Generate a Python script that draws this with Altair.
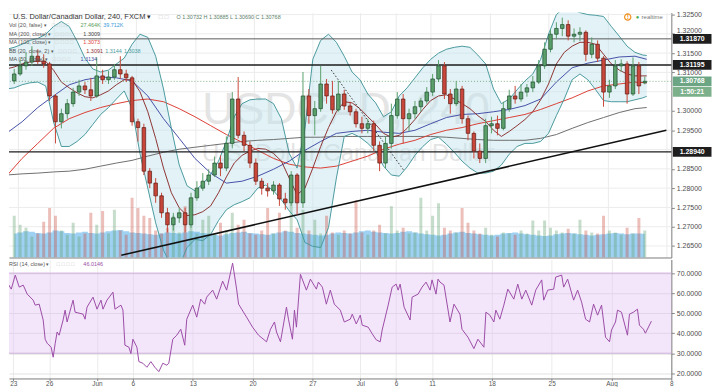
import json
import altair as alt
import pandas as pd

# ---------------- data ----------------
# 12-hour candles (bar index b = 3*i - 2 in 240-minute bars from 23 May)
OPEN = [1.3078, 1.3096, 1.3117, 1.3127, 1.3142, 1.3129, 1.3122, 1.3039, 1.2972, 1.2993,
        1.3019, 1.3049, 1.3065, 1.3055, 1.3039, 1.3091, 1.3081, 1.3088, 1.3107, 1.3096,
        1.3086, 1.2972, 1.2957, 1.2844, 1.2813, 1.2780, 1.2736, 1.2705, 1.2723, 1.2736,
        1.2705, 1.2775, 1.2800, 1.2818, 1.2834, 1.2865, 1.2852, 1.2916, 1.3031, 1.2937,
        1.2911, 1.2865, 1.2818, 1.2800, 1.2793, 1.2808, 1.2772, 1.2762, 1.2834, 1.2762,
        1.3039, 1.2988, 1.3006, 1.3070, 1.3039, 1.3003, 1.3044, 1.3013, 1.2998, 1.2967,
        1.2955, 1.2967, 1.2911, 1.2865, 1.2916, 1.2988, 1.3031, 1.2980, 1.2993, 1.3011,
        1.3026, 1.3049, 1.3083, 1.3117, 1.3044, 1.3019, 1.3057, 1.2980, 1.2942, 1.2896,
        1.2877, 1.2962, 1.2967, 1.2955, 1.3006, 1.3039, 1.3031, 1.3049, 1.3060, 1.3075,
        1.3117, 1.3160, 1.3199, 1.3214, 1.3224, 1.3194, 1.3199, 1.3204, 1.3147, 1.3173,
        1.3137, 1.3049, 1.3065, 1.3117, 1.3122, 1.3044, 1.3117, 1.3073]
HIGH = [1.3109, 1.3134, 1.3152, 1.3168, 1.3160, 1.3147, 1.3127, 1.3044, 1.3006, 1.3031,
        1.3060, 1.3081, 1.3075, 1.3086, 1.3139, 1.3107, 1.3104, 1.3122, 1.3142, 1.3107,
        1.3091, 1.2980, 1.2967, 1.2852, 1.2826, 1.2788, 1.2749, 1.2736, 1.2749, 1.2749,
        1.2788, 1.2818, 1.2839, 1.2849, 1.2882, 1.2885, 1.2934, 1.3049, 1.3088, 1.2947,
        1.2921, 1.2877, 1.2826, 1.2813, 1.2818, 1.2813, 1.2788, 1.2844, 1.2839, 1.3101,
        1.3057, 1.3026, 1.3117, 1.3083, 1.3078, 1.3078, 1.3055, 1.3024, 1.3006, 1.2985,
        1.2980, 1.2975, 1.2921, 1.2934, 1.3019, 1.3049, 1.3044, 1.3006, 1.3026, 1.3034,
        1.3062, 1.3096, 1.3132, 1.3127, 1.3057, 1.3078, 1.3065, 1.2988, 1.2947, 1.2916,
        1.2980, 1.2985, 1.2988, 1.3024, 1.3055, 1.3065, 1.3070, 1.3070, 1.3091, 1.3132,
        1.3178, 1.3211, 1.3230, 1.3242, 1.3235, 1.3214, 1.3217, 1.3209, 1.3191, 1.3183,
        1.3142, 1.3081, 1.3132, 1.3134, 1.3129, 1.3139, 1.3127, 1.3089]
LOW = [1.3070, 1.3091, 1.3107, 1.3117, 1.3122, 1.3112, 1.3026, 1.2916, 1.2955, 1.2980,
       1.3011, 1.3039, 1.3044, 1.3026, 1.3034, 1.3070, 1.3070, 1.3081, 1.3083, 1.3075,
       1.2962, 1.2921, 1.2834, 1.2800, 1.2762, 1.2723, 1.2685, 1.2690, 1.2710, 1.2685,
       1.2697, 1.2767, 1.2793, 1.2808, 1.2829, 1.2831, 1.2844, 1.2903, 1.2929, 1.2896,
       1.2852, 1.2808, 1.2783, 1.2778, 1.2783, 1.2754, 1.2744, 1.2754, 1.2731, 1.2749,
       1.2967, 1.2937, 1.2998, 1.3019, 1.2993, 1.2998, 1.3003, 1.2988, 1.2957, 1.2942,
       1.2942, 1.2896, 1.2844, 1.2852, 1.2903, 1.2980, 1.2916, 1.2947, 1.2980, 1.2998,
       1.3019, 1.3039, 1.3075, 1.3031, 1.2993, 1.3013, 1.2967, 1.2924, 1.2877, 1.2865,
       1.2865, 1.2942, 1.2937, 1.2950, 1.2998, 1.3019, 1.3024, 1.3037, 1.3049, 1.3070,
       1.3109, 1.3152, 1.3186, 1.3194, 1.3183, 1.3178, 1.3181, 1.3129, 1.3137, 1.3127,
       1.3011, 1.3034, 1.3057, 1.3101, 1.3019, 1.3039, 1.3044, 1.3069]
CLOSE = [1.3096, 1.3117, 1.3127, 1.3142, 1.3129, 1.3122, 1.3039, 1.2972, 1.2993, 1.3019,
         1.3049, 1.3065, 1.3055, 1.3039, 1.3091, 1.3081, 1.3088, 1.3107, 1.3096, 1.3086,
         1.2972, 1.2957, 1.2844, 1.2813, 1.2780, 1.2736, 1.2705, 1.2723, 1.2736, 1.2705,
         1.2775, 1.2800, 1.2818, 1.2834, 1.2865, 1.2852, 1.2916, 1.3031, 1.2937, 1.2911,
         1.2865, 1.2818, 1.2800, 1.2793, 1.2808, 1.2772, 1.2762, 1.2834, 1.2762, 1.3039,
         1.2988, 1.3006, 1.3070, 1.3039, 1.3003, 1.3044, 1.3013, 1.2998, 1.2967, 1.2955,
         1.2967, 1.2911, 1.2865, 1.2916, 1.2988, 1.3031, 1.2980, 1.2993, 1.3011, 1.3026,
         1.3049, 1.3083, 1.3117, 1.3044, 1.3019, 1.3057, 1.2980, 1.2942, 1.2896, 1.2877,
         1.2962, 1.2967, 1.2955, 1.3006, 1.3039, 1.3031, 1.3049, 1.3060, 1.3075, 1.3117,
         1.3160, 1.3199, 1.3214, 1.3224, 1.3194, 1.3199, 1.3204, 1.3147, 1.3173, 1.3137,
         1.3049, 1.3065, 1.3117, 1.3122, 1.3044, 1.3117, 1.3065, 1.3077]
VOLUME_K = [70, 55, 50, 35, 40, 60, 83, 70, 45, 38, 58, 35, 40, 75, 55, 78, 40, 80, 45, 38,
            100, 83, 70, 66, 45, 40, 50, 70, 42, 86, 55, 40, 63, 70, 40, 58, 45, 75, 55, 63,
            40, 38, 45, 83, 40, 75, 45, 91, 50, 80, 45, 63, 40, 70, 42, 38, 45, 40, 96, 42,
            38, 45, 55, 40, 86, 45, 50, 40, 42, 100, 45, 70, 91, 50, 45, 42, 83, 58, 45, 40,
            50, 38, 35, 42, 40, 38, 45, 40, 62, 45, 62, 50, 45, 42, 48, 40, 63, 45, 42, 40,
            70, 45, 42, 38, 50, 40, 66, 45]
VOLUME_MA_K = [40, 42, 44, 43, 41, 40, 42, 45, 44, 41, 40, 42, 43, 41, 40, 42, 44, 45, 46, 44,
               42, 41, 40, 39, 38, 40, 42, 41, 40, 42, 44, 43, 41, 40, 38, 37, 39, 41, 42, 43,
               41, 40, 39, 38, 40, 42, 44, 43, 41, 40, 39, 38, 37, 38, 40, 42, 41, 40, 42, 44,
               45, 43, 42, 41, 40, 41, 43, 44, 42, 40, 39, 38, 37, 38, 40, 42, 43, 41, 40, 39,
               38, 37, 38, 40, 41, 42, 40, 39, 38, 37, 36, 37, 39, 40, 41, 40, 39, 38, 37, 38,
               39, 40, 41, 40, 39, 40, 40, 39.7]

# Bollinger bands (20, close, 2), read every 4 bars
BAND_B = list(range(-6, 319, 4)) + [320]
BB_UPPER = [1.3160, 1.3165, 1.3173, 1.3183, 1.3188, 1.3199, 1.3219, 1.3232, 1.3219, 1.3181,
            1.3137, 1.3109, 1.3101, 1.3106, 1.3122, 1.3137, 1.3173, 1.3199, 1.3191, 1.3142,
            1.3057, 1.2955, 1.2860, 1.2806, 1.2793, 1.2811, 1.2836, 1.2870, 1.2921, 1.2985,
            1.3019, 1.3029, 1.3031, 1.3031, 1.3019, 1.2980, 1.2890, 1.2852, 1.2955, 1.3134,
            1.3183, 1.3199, 1.3178, 1.3142, 1.3101, 1.3081, 1.3044, 1.3021, 1.2985, 1.2998,
            1.3039, 1.3060, 1.3086, 1.3112, 1.3134, 1.3150, 1.3160, 1.3165, 1.3168, 1.3165,
            1.3145, 1.3122, 1.3057, 1.3019, 1.3031, 1.3055, 1.3078, 1.3096, 1.3134, 1.3199,
            1.3250, 1.3268, 1.3263, 1.3255, 1.3250, 1.3248, 1.3245, 1.3219, 1.3194, 1.3168,
            1.3152, 1.3145, 1.3144]
BB_LOWER = [1.3057, 1.3060, 1.3068, 1.3073, 1.3075, 1.3065, 1.2972, 1.2908, 1.2908, 1.2921,
            1.2939, 1.2965, 1.2991, 1.3009, 1.3031, 1.3052, 1.3006, 1.2890, 1.2800, 1.2710,
            1.2639, 1.2598, 1.2598, 1.2646, 1.2667, 1.2664, 1.2680, 1.2716, 1.2744, 1.2757,
            1.2765, 1.2775, 1.2800, 1.2808, 1.2793, 1.2770, 1.2741, 1.2718, 1.2659, 1.2649,
            1.2646, 1.2698, 1.2826, 1.2934, 1.2942, 1.2932, 1.2916, 1.2896, 1.2857, 1.2834,
            1.2831, 1.2855, 1.2885, 1.2908, 1.2926, 1.2932, 1.2914, 1.2893, 1.2870, 1.2852,
            1.2839, 1.2839, 1.2844, 1.2860, 1.2888, 1.2908, 1.2916, 1.2916, 1.2921, 1.2942,
            1.2988, 1.3031, 1.3081, 1.3096, 1.3081, 1.3055, 1.3027, 1.3024, 1.3024, 1.3024,
            1.3029, 1.3034, 1.3038]
BB_BASIS = [1.3109, 1.3114, 1.3122, 1.3127, 1.3129, 1.3129, 1.3106, 1.3075, 1.3060, 1.3047,
            1.3037, 1.3034, 1.3042, 1.3052, 1.3068, 1.3081, 1.3081, 1.3050, 1.2998, 1.2929,
            1.2852, 1.2788, 1.2749, 1.2729, 1.2731, 1.2739, 1.2754, 1.2788, 1.2829, 1.2865,
            1.2885, 1.2896, 1.2903, 1.2901, 1.2890, 1.2870, 1.2826, 1.2783, 1.2800, 1.2852,
            1.2908, 1.2957, 1.2998, 1.3024, 1.3021, 1.3006, 1.2985, 1.2965, 1.2942, 1.2932,
            1.2937, 1.2955, 1.2978, 1.3004, 1.3027, 1.3039, 1.3042, 1.3031, 1.3019, 1.3006,
            1.2988, 1.2973, 1.2950, 1.2934, 1.2947, 1.2962, 1.2978, 1.2998, 1.3029, 1.3070,
            1.3122, 1.3152, 1.3168, 1.3178, 1.3178, 1.3173, 1.3147, 1.3122, 1.3106, 1.3096,
            1.3091, 1.3091, 1.3091]

# moving averages, read every 8 bars
MA_B = list(range(-6, 315, 8)) + [320]
MA50 = [1.2942, 1.2972, 1.3009, 1.3039, 1.3068, 1.3081, 1.3088, 1.3086, 1.3078, 1.3039,
        1.2980, 1.2929, 1.2877, 1.2839, 1.2813, 1.2818, 1.2831, 1.2849, 1.2870, 1.2898,
        1.2921, 1.2942, 1.2947, 1.2950, 1.2945, 1.2942, 1.2950, 1.2967, 1.2983, 1.2991,
        1.2993, 1.2998, 1.3004, 1.3014, 1.3031, 1.3075, 1.3112, 1.3124, 1.3132, 1.3140,
        1.3142, 1.3134]
MA100 = [1.2831, 1.2877, 1.2916, 1.2955, 1.2980, 1.2996, 1.3009, 1.3019, 1.3027, 1.3031,
         1.3024, 1.3006, 1.2985, 1.2962, 1.2939, 1.2919, 1.2898, 1.2877, 1.2862, 1.2855,
         1.2852, 1.2857, 1.2870, 1.2883, 1.2901, 1.2914, 1.2924, 1.2939, 1.2950, 1.2957,
         1.2967, 1.2975, 1.2983, 1.2991, 1.3004, 1.3019, 1.3034, 1.3052, 1.3065, 1.3070,
         1.3075, 1.3073]
MA200 = [1.2834, 1.2837, 1.2839, 1.2842, 1.2844, 1.2849, 1.2857, 1.2865, 1.2872, 1.2883,
         1.2893, 1.2901, 1.2906, 1.2911, 1.2916, 1.2921, 1.2924, 1.2926, 1.2929, 1.2932,
         1.2932, 1.2934, 1.2934, 1.2934, 1.2934, 1.2934, 1.2934, 1.2934, 1.2932, 1.2929,
         1.2926, 1.2924, 1.2924, 1.2924, 1.2929, 1.2939, 1.2955, 1.2970, 1.2983, 1.2996,
         1.3006, 1.3009]

# RSI (14, close)
RSI_B = [-6, -4, -1, 1, 3, 5, 7, 10, 11, 13, 15, 16, 17, 19, 20, 21, 22, 23, 25, 26, 27, 29,
         30, 31, 35, 36, 37, 40, 42, 44, 45, 47, 50, 51, 54, 55, 56, 58, 59, 60, 62, 63, 65,
         67, 69, 71, 73, 75, 77, 78, 80, 82, 84, 86, 87, 90, 92, 94, 96, 97, 100, 102, 105,
         107, 110, 112, 113, 117, 120, 123, 127, 129, 131, 132, 134, 137, 138, 140, 141, 142,
         144, 147, 149, 152, 153, 155, 157, 159, 161, 164, 166, 169, 170, 172, 174, 175, 178,
         180, 182, 184, 185, 188, 190, 192, 193, 194, 196, 199, 200, 203, 205, 207, 209, 210,
         212, 213, 214, 216, 219, 221, 224, 225, 228, 231, 233, 236, 237, 239, 241, 242, 244,
         246, 248, 251, 253, 255, 257, 260, 262, 265, 266, 268, 271, 272, 275, 276, 278, 281,
         283, 285, 287, 289, 291, 293, 295, 297, 299, 300, 302, 303, 305, 308, 309, 311, 313,
         314, 316, 317, 320]
RSI_V = [62, 67, 62, 69, 63, 64, 59.5, 56.5, 54, 54.5, 46.6, 37, 35, 33, 28, 34.7, 40.6, 39,
         46.6, 51.5, 45.6, 53, 56.5, 50.5, 49.5, 47, 53, 58, 52, 56.5, 52, 56.5, 60.5, 52, 54,
         51.5, 34, 33, 29.8, 37, 33, 25.8, 25, 23, 25.8, 23, 20.8, 25, 24, 25, 37, 39, 42, 34,
         47, 54, 48, 57, 54.5, 58, 61.5, 57, 66, 61.5, 75, 62, 54.5, 48, 43, 39, 35.7, 42, 45.6,
         40.6, 35.7, 53, 47, 37, 51.5, 43, 69.4, 61.5, 67, 62, 65.5, 63, 54.5, 61.5, 54.5, 51.5,
         45.6, 47, 49.5, 44.6, 49, 44, 43, 39.7, 36.7, 35.7, 41.6, 54, 63, 64.5, 61.5, 64.5, 53,
         46.6, 58, 59.5, 63, 65.5, 61.5, 66.6, 59.5, 67, 65.5, 64, 45.6, 54.5, 49.5, 42, 38,
         32.3, 37, 33, 50.5, 49, 45.6, 51.5, 47, 54, 62, 57, 64.5, 57, 61.5, 54, 61.5, 66.6,
         56.5, 61.5, 62, 68, 69, 63, 67, 56.5, 61.5, 55.5, 47, 45.6, 54.5, 49, 54, 38, 35.7,
         41.6, 45.6, 51.5, 50.5, 39, 49.5, 50.5, 52, 44, 42, 40, 46.0146]

TICK_B = [0, 18, 42, 60, 90, 120, 150, 174, 192, 210, 240, 270, 300, 330]
TICK_LABELS = ["23", "26", "Jun", "6", "13", "20", "27", "Jul", "6", "11", "18", "25", "Aug", "8"]
PRICE_GRID = [1.265, 1.270, 1.275, 1.280, 1.285, 1.290, 1.295, 1.300, 1.305, 1.310,
              1.315, 1.320, 1.325]
# labels that stay visible (1.29000 and 1.30500 sit under the marker boxes)
PRICE_LABELS = [1.265, 1.270, 1.275, 1.280, 1.285, 1.295, 1.300, 1.310, 1.315, 1.320, 1.325]
RSI_TICKS = [20, 30, 40, 50, 60, 70]
LEVELS = [1.31870, 1.31195, 1.28940]
LEVEL_COLORS = ["#5a5a5a", "#1c1c1c", "#1c1c1c"]
LEVEL_WIDTHS = [1.0, 1.5, 1.5]
TREND_B = [52.5, 330]
TREND_P = [1.2626, 1.2950]
DOTTED_B = [159.4, 196.2]
DOTTED_P = [1.3106, 1.2847]
LAST_PRICE = 1.30768

# ---------------- tables ----------------
candles = pd.DataFrame({
    "b": [3 * i - 2 for i in range(len(OPEN))],
    "open": OPEN, "high": HIGH, "low": LOW, "close": CLOSE,
    "vol": VOLUME_K, "volma": VOLUME_MA_K,
})
candles["dir"] = ["up" if c >= o else "down" for o, c in zip(OPEN, CLOSE)]
bands = pd.DataFrame({"b": BAND_B, "upper": BB_UPPER, "lower": BB_LOWER, "basis": BB_BASIS})
mas = pd.DataFrame({"b": MA_B, "ma50": MA50, "ma100": MA100, "ma200": MA200})
rsi = pd.DataFrame({"b": RSI_B, "rsi": RSI_V})
levels = pd.DataFrame({"price": LEVELS, "c": LEVEL_COLORS, "w": LEVEL_WIDTHS})
grid = pd.DataFrame({"price": PRICE_GRID})
trend = pd.DataFrame({"b": TREND_B, "p": TREND_P})
dotted = pd.DataFrame({"b": DOTTED_B, "p": DOTTED_P})
lastp = pd.DataFrame({"price": [LAST_PRICE]})
boxes = pd.DataFrame({"price": LEVELS + [LAST_PRICE],
                      "bg": ["#1e1e1e", "#1e1e1e", "#1e1e1e", "#6ba583"]})
DUMMY = pd.DataFrame({"k": [0]})

FONT = "Liberation Sans"
W, H_TOP, H_RSI = 668, 247, 120
LEG = 5.5  # legend font size

XS = alt.Scale(domain=[-2.14, 330], nice=False, zero=False)
YS = alt.Scale(domain=[1.26202, 1.32551], nice=False, zero=False)
VS = alt.Scale(domain=[0, 410], nice=False)
RS = alt.Scale(domain=[17.4, 76.8], nice=False, zero=False)

X_AXIS_TOP = alt.Axis(values=TICK_B, labels=False, ticks=False, domain=True,
                      domainColor="#7a7a7a", grid=True, gridColor="#ebebeb", title=None)
label_expr = f"{json.dumps(TICK_LABELS)}[indexof({json.dumps(TICK_B)}, datum.value)]"
X_AXIS_BOTTOM = alt.Axis(values=TICK_B, labelExpr=label_expr, labelFontSize=6.5,
                         labelColor="#555555", labelFont=FONT, tickSize=2, tickColor="#888888",
                         domainColor="#7a7a7a", grid=True, gridColor="#ebebeb", title=None,
                         labelFlush=False, labelOverlap=False, labelPadding=0,
                         labelBaseline="top")
# the 1.32000 label peeks out just above the 1.31870 marker box
PRICE_LABEL_BASELINE = {"condition": {"test": "abs(datum.value - 1.32) < 0.0001",
                                      "value": "bottom"},
                        "value": "middle"}
PRICE_AXIS = alt.Axis(orient="right", values=PRICE_LABELS, format=".5f", labelFontSize=7,
                      labelColor="#4d4d4d", labelFont=FONT, tickSize=3, tickColor="#888888",
                      domainColor="#7a7a7a", grid=False, title=None, labelPadding=2,
                      labelBaseline=PRICE_LABEL_BASELINE)
RSI_AXIS = alt.Axis(orient="right", values=RSI_TICKS, format=".4f", labelFontSize=7,
                    labelColor="#4d4d4d", labelFont=FONT, tickSize=3, tickColor="#888888",
                    domainColor="#7a7a7a", grid=True, gridColor="#e2e2e2", title=None,
                    labelPadding=2)


def xt(field="b"):
    return alt.X(field, type="quantitative", scale=XS, axis=X_AXIS_TOP)


def yp(field, axis=None):
    return alt.Y(field, type="quantitative", scale=YS, axis=axis)


def txt(s, x, y, color="#555555", size=LEG, weight="normal", align="left"):
    return alt.Chart(DUMMY).mark_text(
        text=s, align=align, baseline="middle", fontSize=size, fontWeight=weight,
        color=color, font=FONT
    ).encode(x=alt.value(x), y=alt.value(y))


DIR_FILL = alt.Scale(domain=["up", "down"], range=["#5b9f6b", "#c8473a"])
DIR_EDGE = alt.Scale(domain=["up", "down"], range=["#1f4d2e", "#5b1a13"])

# ---------------- price pane ----------------
grid_rules = alt.Chart(grid).mark_rule(color="#ececec", strokeWidth=1).encode(y=yp("price"))
watermark1 = txt("USDCAD, 240", 340, 98, color="#e4e4e4", size=45, align="center")
watermark2 = txt("U.S. Dollar/Canadian Dollar", 342, 143, color="#e4e4e4", size=24, align="center")

bb_fill = alt.Chart(bands).mark_area(color="#bfe3ea", opacity=0.45, clip=True).encode(
    x=xt(), y=yp("lower"), y2=alt.Y2("upper"))

vol_ma = alt.Chart(candles).mark_area(interpolate="step", color="#5db2ea", opacity=0.6,
                                      clip=True).encode(
    x=xt(), y=alt.Y("volma:Q", scale=VS, axis=None))
vol_bars = alt.Chart(candles).mark_bar(size=3, opacity=0.35, clip=True).encode(
    x=xt(), y=alt.Y("vol:Q", scale=VS, axis=None),
    color=alt.Color("dir:N", scale=DIR_FILL, legend=None))
volume = alt.layer(vol_ma, vol_bars)


def line(df, field, color, width=1.0, dash=None):
    kw = dict(color=color, strokeWidth=width, clip=True)
    if dash:
        kw["strokeDash"] = dash
    return alt.Chart(df).mark_line(**kw).encode(x=xt(), y=yp(field))


ma200_l = line(mas, "ma200", "#6e6e6e")
ma100_l = line(mas, "ma100", "#dc3f36")
ma50_l = line(mas, "ma50", "#4650a8")
basis_l = line(bands, "basis", "#8e3434")
upper_l = line(bands, "upper", "#4a9a9e")
lower_l = line(bands, "lower", "#4a9a9e")

level_rules = alt.Chart(levels).mark_rule().encode(
    y=yp("price"), color=alt.Color("c:N", scale=None),
    strokeWidth=alt.StrokeWidth("w:Q", scale=None))
trend_l = line(trend, "p", "#111111", 1.5)
dotted_l = line(dotted, "p", "#333333", 1.0, [1.5, 2])
last_rule = alt.Chart(lastp).mark_rule(color="#7fb38a", strokeDash=[1, 2]).encode(y=yp("price"))

wicks = alt.Chart(candles).mark_rule(strokeWidth=1, clip=True).encode(
    x=xt(), y=yp("low"), y2=alt.Y2("high"),
    color=alt.Color("dir:N", scale=DIR_EDGE, legend=None))
bodies = alt.Chart(candles).mark_bar(size=3.6, strokeWidth=0.7, clip=True).encode(
    x=xt(), y=yp("open", PRICE_AXIS), y2=alt.Y2("close"),
    fill=alt.Fill("dir:N", scale=DIR_FILL, legend=None),
    stroke=alt.Stroke("dir:N", scale=DIR_EDGE, legend=None))

box_marks = alt.Chart(boxes).mark_tick(orient="horizontal", size=39, thickness=10,
                                       opacity=1).encode(
    y=yp("price"), x=alt.value(689), color=alt.Color("bg:N", scale=None))
box_text = alt.Chart(boxes).mark_text(color="white", fontSize=7, fontWeight="bold",
                                      font=FONT).encode(
    y=yp("price"), x=alt.value(689), text=alt.Text("price:Q", format=".5f"))
count_box = alt.Chart(DUMMY).mark_tick(orient="horizontal", size=39, thickness=10, opacity=1,
                                       color="#7cb08a").encode(
    x=alt.value(689), y=alt.value(80))
count_text = txt("1:50:21", 689, 80, color="white", size=7, weight="bold", align="center")

ICONS = "\u25a1 \u25a1 \u25a1 \u25a1"
legend_top = [
    txt("U.S. Dollar/Canadian Dollar, 240, FXCM \u25be", 4, 4.5, color="#333333", size=7.5),
    txt("\u25a1 \u25a1", 151, 4.5, color="#c8c8c8", size=6.5),
    txt("O 1.30732 H 1.30885 L 1.30690 C 1.30768", 169, 4.5, color="#5b7f6a", size=LEG),
    txt("Vol (20, false) \u25be", 0, 13),
    txt(ICONS, 43, 13, color="#cccccc"),
    txt("27.464K", 72, 13, color="#5aa05a"),
    txt("39.712K", 95, 13, color="#3a9ad9"),
    txt("MA (200, close) \u25be", 0, 21.5),
    txt(ICONS, 47, 21.5, color="#cccccc"),
    txt("1.3009", 75, 21.5, color="#444444"),
    txt("MA (100, close) \u25be", 0, 30),
    txt(ICONS, 47, 30, color="#cccccc"),
    txt("1.3073", 75, 30, color="#dc3f36"),
    txt("BB (20, close, 2) \u25be", 0, 38.5),
    txt(ICONS, 50, 38.5, color="#cccccc"),
    txt("1.3091", 78, 38.5, color="#8e3434"),
    txt("1.3144", 97, 38.5, color="#4a9a9e"),
    txt("1.3038", 116, 38.5, color="#4a9a9e"),
    txt("MA (50, close) \u25be", 0, 47),
    txt(ICONS, 44, 47, color="#cccccc"),
    txt("1.3134", 72, 47, color="#4650a8"),
    txt("\u25cf", 632, 4.5, color="#4caf50", size=6),
    txt("realtime", 638, 4.5, color="#777777", size=6),
]
alert_ring = alt.Chart(DUMMY).mark_point(shape="circle", filled=False, color="#f0901e",
                                         size=40, strokeWidth=1.2, opacity=1).encode(
    x=alt.value(624), y=alt.value(4.5))
alert_mark = txt("!", 624, 4.5, color="#f0901e", size=6.5, weight="bold", align="center")

top = alt.layer(
    grid_rules, watermark1, watermark2, bb_fill, volume,
    ma200_l, ma100_l, ma50_l, basis_l, upper_l, lower_l,
    level_rules, trend_l, dotted_l, last_rule, wicks, bodies,
    box_marks, box_text, count_box, count_text, alert_ring, alert_mark,
    *legend_top,
).resolve_scale(y="independent").properties(width=W, height=H_TOP)

# ---------------- RSI pane ----------------
band_df = pd.DataFrame({"lo": [30], "hi": [70]})
edge_df = pd.DataFrame({"lvl": [70, 30]})
rsi_band = alt.Chart(band_df).mark_rect(color="#e2c2f2", opacity=0.42).encode(
    x=alt.value(0), x2=alt.value(W),
    y=alt.Y("hi:Q", scale=RS, axis=RSI_AXIS), y2=alt.Y2("lo:Q"))
rsi_edges = alt.Chart(edge_df).mark_rule(color="#cdb0da", strokeWidth=1).encode(
    y=alt.Y("lvl:Q", scale=RS, axis=RSI_AXIS))
rsi_line = alt.Chart(rsi).mark_line(color="#9b4ca6", strokeWidth=1, clip=True).encode(
    x=alt.X("b:Q", scale=XS, axis=X_AXIS_BOTTOM),
    y=alt.Y("rsi:Q", scale=RS, axis=RSI_AXIS))
rsi_legend = [
    txt("RSI (14, close) \u25be", 0, 5),
    txt(ICONS, 48, 5, color="#cccccc"),
    txt("46.0146", 75, 5, color="#9b4ca6"),
]
bottom = alt.layer(rsi_band, rsi_edges, rsi_line, *rsi_legend).properties(width=W, height=H_RSI)

chart = alt.vconcat(top, bottom, spacing=2).properties(
    padding=0, background="white"
).configure_view(stroke=None)

chart.save("out.html", embed_options={"renderer": "svg", "actions": False})
